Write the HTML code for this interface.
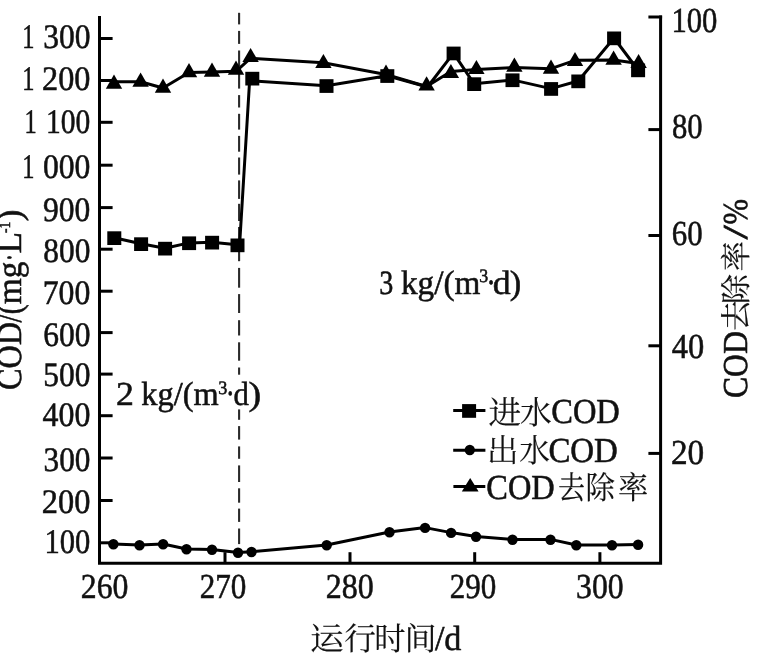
<!DOCTYPE html>
<html lang="zh"><head><meta charset="utf-8"><title>COD</title>
<style>html,body{margin:0;padding:0;background:#fff}svg{display:block;filter:grayscale(1)}text{fill:#111;stroke:#111;stroke-width:.55px;text-rendering:geometricPrecision}text.c{stroke-width:.12px}</style></head><body>
<svg width="759" height="666" viewBox="0 0 759 666">
<rect width="100%" height="100%" fill="#fff"/>
<g stroke="#000" stroke-width="3" fill="none" stroke-linecap="butt">
<path d="M99.5,16.1 V563.3 H660.6 V15.6"/>
<path d="M99.5,38.5 H112.6"/>
<path d="M99.5,80.5 H112.6"/>
<path d="M99.5,122.3 H112.6"/>
<path d="M99.5,165.2 H112.6"/>
<path d="M99.5,207.6 H112.6"/>
<path d="M99.5,249.2 H112.6"/>
<path d="M99.5,291.2 H112.6"/>
<path d="M99.5,332.6 H112.6"/>
<path d="M99.5,374.1 H112.6"/>
<path d="M99.5,415.7 H112.6"/>
<path d="M99.5,458 H112.6"/>
<path d="M99.5,500.5 H112.6"/>
<path d="M99.5,542.8 H112.6"/>
<path d="M662.1,17 H648.4"/>
<path d="M660.6,129.6 H648.4"/>
<path d="M660.6,235.5 H648.4"/>
<path d="M660.6,345.8 H648.4"/>
<path d="M660.6,453.4 H648.4"/>
<path d="M225,563.3 V552.2"/>
<path d="M350,563.3 V552.2"/>
<path d="M474.7,563.3 V552.2"/>
<path d="M599.9,563.3 V552.2"/>
</g>
<g stroke="#2a2a2a" stroke-width="2.1">
<path d="M239.1,12.8 V24.4"/>
<path d="M239.1,30.9 V43.9"/>
<path d="M239.1,50.5 V66"/>
<path d="M239.1,72 V88.6"/>
<path d="M239.1,95.1 V107.5"/>
<path d="M239.1,113.8 V129.6"/>
<path d="M239.1,135.9 V151.7"/>
<path d="M239.1,157.5 V174.6"/>
<path d="M239.1,180.4 V198.9"/>
<path d="M239.1,203.8 V221"/>
<path d="M239.1,227 V261.2"/>
<path d="M239.1,267.9 V287.7"/>
<path d="M239.1,294.1 V313"/>
<path d="M239.1,320.2 V335.5"/>
<path d="M239.1,342.3 V360.7"/>
<path d="M239.1,367.5 V374.7"/>
<path d="M239.1,409.4 V419.8"/>
<path d="M239.1,426.1 V439.6"/>
<path d="M239.1,446.4 V458.8"/>
<path d="M239.1,465.4 V482"/>
<path d="M239.1,488.3 V502.7"/>
<path d="M239.1,508.6 V521.9"/>
<path d="M239.1,528.5 V544.1"/>
</g>
<polyline fill="none" stroke="#000" stroke-width="3" stroke-linejoin="round" points="114,81.7 140.6,81.7 163,88 189,72.5 212,72 236,71.3 250.6,58.2 323.4,62.7 386,74.5 426.6,86.5 450.9,71.5 476.4,69.6 514.4,67.5 551,68.7 575,60.3 613.6,60 638.6,63.5"/>
<polyline fill="none" stroke="#000" stroke-width="3" stroke-linejoin="round" points="114.2,237.8 141,243.8 165,248.3 189,242.9 212,242.3 239.6,245 249.6,80.8 326.4,85.7 387.2,75.7 427.5,87 453.5,53.1 474.1,83.8 512.4,79.9 551,88.6 578.2,81 614,38 638,70"/>
<polyline fill="none" stroke="#000" stroke-width="3" stroke-linejoin="round" points="113.4,544 139.5,545 163.1,544 186.5,549 212,549.5 238,552.5 251.5,551.7 326.7,545 389.5,532 425.1,527.6 451.1,532.6 476,536.4 512.5,539.4 550.5,539.4 576.3,545 612,545 638.1,544.5"/>
<g fill="#000">
<rect x="107.3" y="231.3" width="14" height="13.7"/>
<rect x="134.1" y="237.3" width="14" height="13.7"/>
<rect x="158.1" y="241.8" width="14" height="13.7"/>
<rect x="182.1" y="236.4" width="14" height="13.7"/>
<rect x="205.1" y="235.8" width="14" height="13.7"/>
<rect x="230.5" y="238.5" width="14" height="13.7"/>
<rect x="245.3" y="71.8" width="14" height="13.7"/>
<rect x="319.5" y="79.2" width="14" height="13.7"/>
<rect x="380.3" y="69.2" width="14" height="13.7"/>
<rect x="446.6" y="46.6" width="14" height="13.7"/>
<rect x="467.2" y="77.3" width="14" height="13.7"/>
<rect x="505.5" y="73.4" width="14" height="13.7"/>
<rect x="544.1" y="82.1" width="14" height="13.7"/>
<rect x="571.3" y="74.5" width="14" height="13.7"/>
<rect x="607.1" y="31.5" width="14" height="13.7"/>
<rect x="631.1" y="63.5" width="14" height="13.7"/>
<polygon points="114,74.5 105.8,88.7 122.2,88.7"/>
<polygon points="140.6,72.5 132.4,86.7 148.8,86.7"/>
<polygon points="163,78.5 154.8,92.7 171.2,92.7"/>
<polygon points="189,63.1 180.8,77.3 197.2,77.3"/>
<polygon points="212,62.5 203.8,76.7 220.2,76.7"/>
<polygon points="236,60.5 227.8,74.7 244.2,74.7"/>
<polygon points="250.6,47.9 242.4,62.1 258.8,62.1"/>
<polygon points="323.4,53.9 315.2,68.1 331.6,68.1"/>
<polygon points="386,64.5 377.8,78.7 394.2,78.7"/>
<polygon points="426.6,76.2 418.4,90.4 434.8,90.4"/>
<polygon points="450.9,63.9 442.7,78.1 459.1,78.1"/>
<polygon points="476.4,59.9 468.2,74.1 484.6,74.1"/>
<polygon points="514.4,57.5 506.2,71.7 522.6,71.7"/>
<polygon points="551,59.5 542.8,73.7 559.2,73.7"/>
<polygon points="575,51.9 566.8,66.1 583.2,66.1"/>
<polygon points="613.6,50.5 605.4,64.7 621.8,64.7"/>
<polygon points="638.6,53.9 630.4,68.1 646.8,68.1"/>
<circle cx="113.4" cy="544.3" r="5.2"/>
<circle cx="139.5" cy="545.3" r="5.2"/>
<circle cx="163.1" cy="544.3" r="5.2"/>
<circle cx="186.5" cy="549.3" r="5.2"/>
<circle cx="212" cy="549.8" r="5.2"/>
<circle cx="238" cy="552.8" r="5.2"/>
<circle cx="251.5" cy="552" r="5.2"/>
<circle cx="326.7" cy="545.3" r="5.2"/>
<circle cx="389.5" cy="532.3" r="5.2"/>
<circle cx="425.1" cy="527.9" r="5.2"/>
<circle cx="451.1" cy="532.9" r="5.2"/>
<circle cx="476" cy="536.7" r="5.2"/>
<circle cx="512.5" cy="539.7" r="5.2"/>
<circle cx="550.5" cy="539.7" r="5.2"/>
<circle cx="576.3" cy="545.3" r="5.2"/>
<circle cx="612" cy="545.3" r="5.2"/>
<circle cx="638.1" cy="544.8" r="5.2"/>
</g>
<text x="22.1652" y="47.9" font-family='"Liberation Serif", serif' font-size="34.3" text-anchor="start" textLength="12.1986" lengthAdjust="spacingAndGlyphs" >1</text>
<text x="43.3028" y="47.9" font-family='"Liberation Serif", serif' font-size="34.3" text-anchor="start" textLength="47.2792" lengthAdjust="spacingAndGlyphs" >300</text>
<text x="22.1652" y="90.2" font-family='"Liberation Serif", serif' font-size="34.3" text-anchor="start" textLength="12.1986" lengthAdjust="spacingAndGlyphs" >1</text>
<text x="42.0292" y="90.2" font-family='"Liberation Serif", serif' font-size="34.3" text-anchor="start" textLength="48.3803" lengthAdjust="spacingAndGlyphs" >200</text>
<text x="24.4652" y="133" font-family='"Liberation Serif", serif' font-size="34.3" text-anchor="start" textLength="12.1986" lengthAdjust="spacingAndGlyphs" >1</text>
<text x="46.0164" y="133" font-family='"Liberation Serif", serif' font-size="34.3" text-anchor="start" textLength="44.2909" lengthAdjust="spacingAndGlyphs" >100</text>
<text x="22.1652" y="178.2" font-family='"Liberation Serif", serif' font-size="34.3" text-anchor="start" textLength="12.1986" lengthAdjust="spacingAndGlyphs" >1</text>
<text x="42.9132" y="178.2" font-family='"Liberation Serif", serif' font-size="34.3" text-anchor="start" textLength="47.4737" lengthAdjust="spacingAndGlyphs" >000</text>
<text x="43.075" y="220.5" font-family='"Liberation Serif", serif' font-size="34.3" text-anchor="start" textLength="47.3077" lengthAdjust="spacingAndGlyphs" >900</text>
<text x="43.3237" y="261.9" font-family='"Liberation Serif", serif' font-size="34.3" text-anchor="start" textLength="47.0526" lengthAdjust="spacingAndGlyphs" >800</text>
<text x="42.7349" y="304" font-family='"Liberation Serif", serif' font-size="34.3" text-anchor="start" textLength="47.6565" lengthAdjust="spacingAndGlyphs" >700</text>
<text x="43.1621" y="346.1" font-family='"Liberation Serif", serif' font-size="34.3" text-anchor="start" textLength="47.2183" lengthAdjust="spacingAndGlyphs" >600</text>
<text x="43.1911" y="385.6" font-family='"Liberation Serif", serif' font-size="34.3" text-anchor="start" textLength="47.1886" lengthAdjust="spacingAndGlyphs" >500</text>
<text x="42.5622" y="426.4" font-family='"Liberation Serif", serif' font-size="34.3" text-anchor="start" textLength="47.8336" lengthAdjust="spacingAndGlyphs" >400</text>
<text x="43.5163" y="470.7" font-family='"Liberation Serif", serif' font-size="34.3" text-anchor="start" textLength="46.8551" lengthAdjust="spacingAndGlyphs" >300</text>
<text x="41.8232" y="512.5" font-family='"Liberation Serif", serif' font-size="34.3" text-anchor="start" textLength="48.5915" lengthAdjust="spacingAndGlyphs" >200</text>
<text x="44.5273" y="552.6" font-family='"Liberation Serif", serif' font-size="34.3" text-anchor="start" textLength="45.8182" lengthAdjust="spacingAndGlyphs" >100</text>
<text x="671.421" y="31.5" font-family='"Liberation Serif", serif' font-size="35" text-anchor="start" textLength="45.9273" lengthAdjust="spacingAndGlyphs" >100</text>
<text x="671.949" y="137.9" font-family='"Liberation Serif", serif' font-size="35" text-anchor="start" textLength="30.7027" lengthAdjust="spacingAndGlyphs" >80</text>
<text x="671.788" y="244.9" font-family='"Liberation Serif", serif' font-size="35" text-anchor="start" textLength="30.8696" lengthAdjust="spacingAndGlyphs" >60</text>
<text x="671.751" y="357.9" font-family='"Liberation Serif", serif' font-size="35" text-anchor="start" textLength="32.4668" lengthAdjust="spacingAndGlyphs" >40</text>
<text x="670.986" y="464" font-family='"Liberation Serif", serif' font-size="35" text-anchor="start" textLength="33.2609" lengthAdjust="spacingAndGlyphs" >20</text>
<text x="80.7502" y="598.4" font-family='"Liberation Serif", serif' font-size="35" text-anchor="start" textLength="47.6408" lengthAdjust="spacingAndGlyphs" >260</text>
<text x="199.68" y="597.7" font-family='"Liberation Serif", serif' font-size="35" text-anchor="start" textLength="46.5845" lengthAdjust="spacingAndGlyphs" >270</text>
<text x="325.638" y="597.7" font-family='"Liberation Serif", serif' font-size="35" text-anchor="start" textLength="48.0634" lengthAdjust="spacingAndGlyphs" >280</text>
<text x="449.683" y="597.7" font-family='"Liberation Serif", serif' font-size="35" text-anchor="start" textLength="46.4789" lengthAdjust="spacingAndGlyphs" >290</text>
<text x="576.093" y="597.7" font-family='"Liberation Serif", serif' font-size="35" text-anchor="start" textLength="47.5972" lengthAdjust="spacingAndGlyphs" >300</text>
<text x="379.164" y="293.8" font-family='"Liberation Serif", serif' font-size="34" text-anchor="start" textLength="14.0606" lengthAdjust="spacingAndGlyphs" >3</text>
<text x="400.935" y="293.8" font-family='"Liberation Serif", serif' font-size="34" text-anchor="start" textLength="79.4037" lengthAdjust="spacingAndGlyphs" >kg/(m</text>
<text x="479.148" y="282.1" font-family='"Liberation Serif", serif' font-size="19" text-anchor="start" textLength="8.9697" lengthAdjust="spacingAndGlyphs" >3</text>
<text x="486.189" y="294.3" font-family='"Liberation Serif", serif' font-size="35" text-anchor="start" textLength="9.63597" lengthAdjust="spacingAndGlyphs" >·</text>
<text x="492.847" y="293.8" font-family='"Liberation Serif", serif' font-size="34" text-anchor="start" textLength="17.9006" lengthAdjust="spacingAndGlyphs" >d</text>
<text x="509.677" y="293.8" font-family='"Liberation Serif", serif' font-size="34" text-anchor="start" textLength="11.5098" lengthAdjust="spacingAndGlyphs" >)</text>
<text x="116.08" y="404.7" font-family='"Liberation Serif", serif' font-size="33.5" text-anchor="start" textLength="17.8882" lengthAdjust="spacingAndGlyphs" >2</text>
<text x="141.353" y="404.7" font-family='"Liberation Serif", serif' font-size="33.5" text-anchor="start" textLength="77.2714" lengthAdjust="spacingAndGlyphs" >kg/(m</text>
<text x="218.336" y="393.6" font-family='"Liberation Serif", serif' font-size="19" text-anchor="start" textLength="9.09091" lengthAdjust="spacingAndGlyphs" >3</text>
<text x="225.772" y="405.1" font-family='"Liberation Serif", serif' font-size="35" text-anchor="start" textLength="9.06915" lengthAdjust="spacingAndGlyphs" >·</text>
<text x="233.525" y="404.7" font-family='"Liberation Serif", serif' font-size="33.5" text-anchor="start" textLength="15.3591" lengthAdjust="spacingAndGlyphs" >d</text>
<text x="248.463" y="404.7" font-family='"Liberation Serif", serif' font-size="33.5" text-anchor="start" textLength="12.6737" lengthAdjust="spacingAndGlyphs" >)</text>
<g stroke="#000" stroke-width="3"><path d="M453.2,410.6 H485.4"/><path d="M453.2,450.3 H485.4"/><path d="M453.4,486.5 H485.3"/></g>
<g fill="#000"><rect x="462.1" y="404.1" width="14" height="13.7"/><circle cx="469.8" cy="450" r="5.15"/><polygon points="470.2,478.1 461.8,491.5 478.6,491.5"/></g>
<text x="488.402" y="423.6" font-family='"Liberation Serif", "Noto Serif CJK SC", serif' font-size="32.3" text-anchor="start" textLength="32.6596" lengthAdjust="spacingAndGlyphs" class="c" >进</text>
<text x="520.045" y="423.6" font-family='"Liberation Serif", "Noto Serif CJK SC", serif' font-size="32.3" text-anchor="start" textLength="31.8302" lengthAdjust="spacingAndGlyphs" class="c" >水</text>
<text x="551.199" y="423.4" font-family='"Liberation Serif", serif' font-size="35" text-anchor="start" textLength="68.6649" lengthAdjust="spacingAndGlyphs" >COD</text>
<text x="487.046" y="462.2" font-family='"Liberation Serif", "Noto Serif CJK SC", serif' font-size="32.3" text-anchor="start" textLength="31.4715" lengthAdjust="spacingAndGlyphs" class="c" >出</text>
<text x="519.277" y="462.2" font-family='"Liberation Serif", "Noto Serif CJK SC", serif' font-size="32.3" text-anchor="start" textLength="30.7692" lengthAdjust="spacingAndGlyphs" class="c" >水</text>
<text x="548.383" y="461.8" font-family='"Liberation Serif", serif' font-size="35" text-anchor="start" textLength="69.4959" lengthAdjust="spacingAndGlyphs" >COD</text>
<text x="486.303" y="498.8" font-family='"Liberation Serif", serif' font-size="35" text-anchor="start" textLength="68.4571" lengthAdjust="spacingAndGlyphs" >COD</text>
<text x="558.085" y="499.3" font-family='"Liberation Serif", "Noto Serif CJK SC", serif' font-size="32" text-anchor="start" textLength="26.9945" lengthAdjust="spacingAndGlyphs" class="c" >去</text>
<text x="585.569" y="499.3" font-family='"Liberation Serif", "Noto Serif CJK SC", serif' font-size="32" text-anchor="start" textLength="29.4678" lengthAdjust="spacingAndGlyphs" class="c" >除</text>
<text x="617.913" y="499.3" font-family='"Liberation Serif", "Noto Serif CJK SC", serif' font-size="32" text-anchor="start" textLength="30.2732" lengthAdjust="spacingAndGlyphs" class="c" >率</text>
<text x="309.98" y="650.2" font-family='"Liberation Serif", "Noto Serif CJK SC", serif' font-size="32" text-anchor="start" textLength="33.7705" lengthAdjust="spacingAndGlyphs" class="c" >运</text>
<text x="344.352" y="650.2" font-family='"Liberation Serif", "Noto Serif CJK SC", serif' font-size="32" text-anchor="start" textLength="31.5957" lengthAdjust="spacingAndGlyphs" class="c" >行</text>
<text x="374.216" y="650.2" font-family='"Liberation Serif", "Noto Serif CJK SC", serif' font-size="32" text-anchor="start" textLength="31.3239" lengthAdjust="spacingAndGlyphs" class="c" >时</text>
<text x="404.517" y="650.2" font-family='"Liberation Serif", "Noto Serif CJK SC", serif' font-size="32" text-anchor="start" textLength="32.0245" lengthAdjust="spacingAndGlyphs" class="c" >间</text>
<text x="434.9" y="650" font-family='"Liberation Serif", serif' font-size="35" text-anchor="start" textLength="26.5385" lengthAdjust="spacingAndGlyphs" >/d</text>
<g transform="translate(21,388.8) rotate(-90)">
<text x="-1.29102" y="0" font-family='"Liberation Serif", serif' font-size="35" text-anchor="start" textLength="68.1455" lengthAdjust="spacingAndGlyphs" >COD</text>
<text x="66.2" y="0" font-family='"Liberation Serif", serif' font-size="35" text-anchor="start" textLength="18.1936" lengthAdjust="spacingAndGlyphs" >/(</text>
<text x="84.6325" y="0" font-family='"Liberation Serif", serif' font-size="35" text-anchor="start" textLength="42.6467" lengthAdjust="spacingAndGlyphs" >mg</text>
<text x="127.621" y="0" font-family='"Liberation Serif", serif' font-size="35" text-anchor="start" textLength="7.36868" lengthAdjust="spacingAndGlyphs" >·</text>
<text x="135.332" y="0" font-family='"Liberation Serif", serif' font-size="35" text-anchor="start" textLength="21.5116" lengthAdjust="spacingAndGlyphs" >L</text>
<text x="155.795" y="-11" font-family='"Liberation Serif", serif' font-size="16" text-anchor="start" textLength="11.2201" lengthAdjust="spacingAndGlyphs" >-1</text>
<text x="167.664" y="0" font-family='"Liberation Serif", serif' font-size="35" text-anchor="start" textLength="11.6391" lengthAdjust="spacingAndGlyphs" >)</text>
</g>
<g transform="translate(747.3,396.8) rotate(-90)">
<text x="-1.26937" y="0" font-family='"Liberation Serif", serif' font-size="35" text-anchor="start" textLength="67.0028" lengthAdjust="spacingAndGlyphs" >COD</text>
<text x="66.1328" y="-0.5" font-family='"Liberation Serif", "Noto Serif CJK SC", serif' font-size="31" text-anchor="start" textLength="30.3825" lengthAdjust="spacingAndGlyphs" class="c" >去</text>
<text x="92.6042" y="-0.5" font-family='"Liberation Serif", "Noto Serif CJK SC", serif' font-size="31" text-anchor="start" textLength="30.2521" lengthAdjust="spacingAndGlyphs" class="c" >除</text>
<text x="125.304" y="-0.5" font-family='"Liberation Serif", "Noto Serif CJK SC", serif' font-size="31" text-anchor="start" textLength="30.4918" lengthAdjust="spacingAndGlyphs" class="c" >率</text>
<text x="157.3" y="0" font-family='"Liberation Serif", serif' font-size="35" text-anchor="start" textLength="14.4182" lengthAdjust="spacingAndGlyphs" >/</text>
<text x="172.429" y="0" font-family='"Liberation Serif", serif' font-size="35" text-anchor="start" textLength="25.4802" lengthAdjust="spacingAndGlyphs" >%</text>
</g>
</svg></body></html>
